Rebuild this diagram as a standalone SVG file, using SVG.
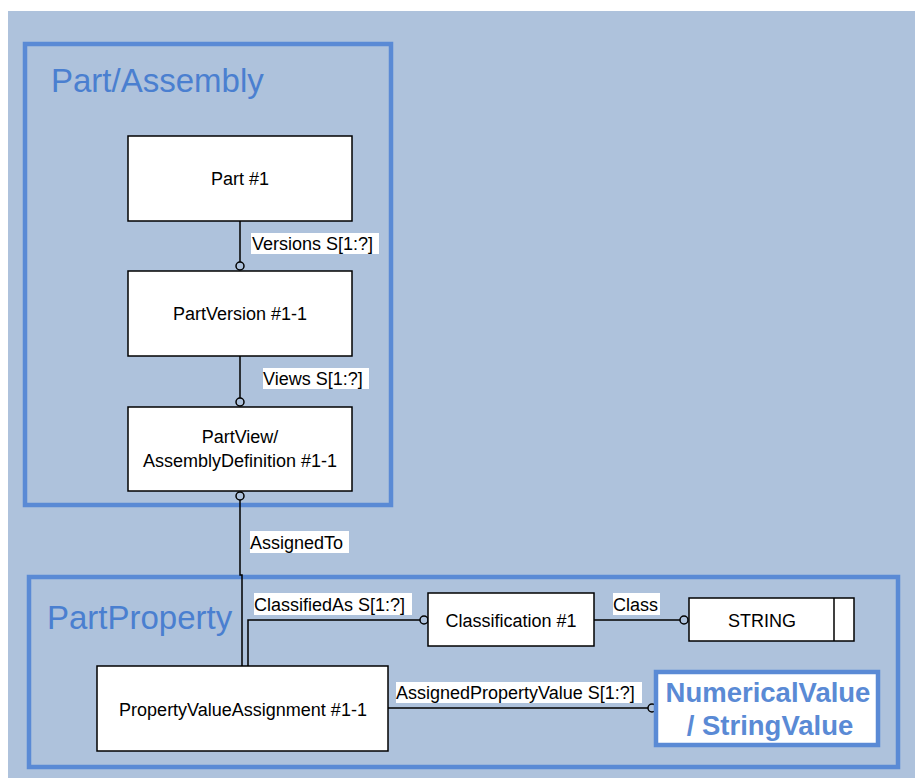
<svg xmlns="http://www.w3.org/2000/svg" width="915" height="778" viewBox="0 0 915 778">
<style>
.node rect{fill:#fff;stroke:#000;stroke-width:1.5}
.t{font-family:"Liberation Sans",Arial,sans-serif;font-size:18px;fill:#000}
.title{font-family:"Liberation Sans",Arial,sans-serif;font-size:33px;fill:#4a7fd0}
.grp{fill:none;stroke:#5a8ad5;stroke-width:4.5}
.conn path,.conn line{fill:none;stroke:#000;stroke-width:1.5}
.conn circle{fill:none;stroke:#000;stroke-width:1.5}
.lbl{fill:#fff}
.big{font-family:"Liberation Sans",Arial,sans-serif;font-size:27.5px;font-weight:bold;fill:#5a8ad5}
</style>
<rect x="8" y="11" width="907" height="767" fill="#aec2dc"/>
<g id="group-partassembly">
<rect class="grp" x="25" y="44" width="366" height="461"/>
<text class="title" x="51" y="92">Part/Assembly</text>
</g>
<g id="group-partproperty">
<rect class="grp" x="29" y="577" width="869" height="190"/>
<text class="title" x="47" y="629">PartProperty</text>
</g>
<g id="connectors" class="conn">
<line x1="240" y1="221" x2="240" y2="262"/>
<circle cx="240" cy="266" r="4"/>
<line x1="240" y1="356" x2="240" y2="398"/>
<circle cx="240" cy="402" r="4"/>
<circle cx="240" cy="496" r="4"/>
<path d="M240,500 V575 H242 V666"/>
<path d="M248,666 V620 H420"/>
<circle cx="424" cy="620" r="4"/>
<line x1="594" y1="620" x2="680" y2="620"/>
<circle cx="684" cy="620" r="4"/>
<line x1="388" y1="708" x2="648" y2="708"/>
<circle cx="652" cy="708" r="4"/>
<rect class="lbl" x="251" y="233" width="128" height="21"/>
<text class="t" x="252" y="250">Versions S[1:?]</text>
<rect class="lbl" x="263" y="368" width="106" height="21"/>
<text class="t" x="263" y="385">Views S[1:?]</text>
<rect class="lbl" x="250" y="531" width="99" height="22"/>
<text class="t" x="250" y="549">AssignedTo</text>
<rect class="lbl" x="254" y="593" width="158" height="22"/>
<text class="t" x="254" y="611">ClassifiedAs S[1:?]</text>
<rect class="lbl" x="613" y="593" width="47" height="22"/>
<text class="t" x="613" y="611">Class</text>
<rect class="lbl" x="396" y="682" width="246" height="21"/>
<text class="t" x="396" y="699">AssignedPropertyValue S[1:?]</text>
</g>
<g id="node-part" class="node">
<rect x="128" y="136" width="224" height="85"/>
<text class="t" x="240" y="185" text-anchor="middle">Part #1</text>
</g>
<g id="node-partversion" class="node">
<rect x="128" y="271" width="224" height="85"/>
<text class="t" x="240" y="320" text-anchor="middle">PartVersion #1-1</text>
</g>
<g id="node-partview" class="node">
<rect x="128" y="407" width="224" height="84"/>
<text class="t" x="240" y="443" text-anchor="middle">PartView/</text>
<text class="t" x="240" y="467" text-anchor="middle">AssemblyDefinition #1-1</text>
</g>
<g id="node-pva" class="node">
<rect x="97" y="666" width="291" height="85"/>
<text class="t" x="243" y="716" text-anchor="middle">PropertyValueAssignment #1-1</text>
</g>
<g id="node-classification" class="node">
<rect x="428" y="593" width="166" height="53"/>
<text class="t" x="511" y="627" text-anchor="middle">Classification #1</text>
</g>
<g id="node-string" class="node">
<rect x="689" y="598" width="165" height="43"/>
<line x1="834" y1="598" x2="834" y2="641" stroke="#000" stroke-width="1.5"/>
<text class="t" x="762" y="627" text-anchor="middle">STRING</text>
</g>
<g id="node-value">
<rect x="656" y="672" width="222" height="73" fill="#fff" stroke="#5a8ad5" stroke-width="4.5"/>
<text class="big" x="768" y="702" text-anchor="middle">NumericalValue</text>
<text class="big" x="770" y="735" text-anchor="middle">/ StringValue</text>
</g>
</svg>
